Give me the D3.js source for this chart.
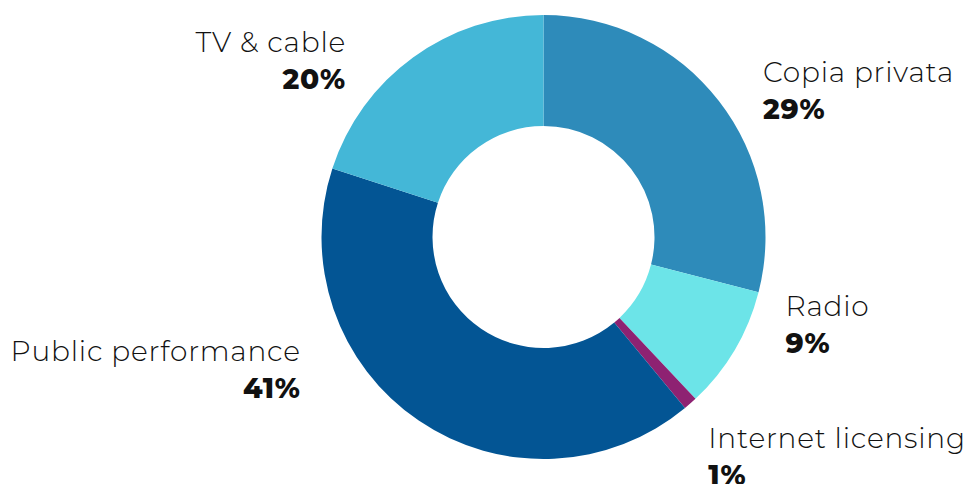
<!doctype html>
<html>
<head>
<meta charset="utf-8">
<script src="https://d3js.org/d3.v7.min.js"></script>
<style>
  body { margin: 0; background: #fff; }
  text { font-family: Montserrat, "Noto Sans", sans-serif; fill: #111; }
  .name { font-weight: 300; font-size: 28px; letter-spacing: 0.8px; }
  .pct { font-weight: 800; font-size: 28px; letter-spacing: 0.8px; }
</style>
</head>
<body>
<div id="chart"></div>
<script>
// data
var categories = ["Copia privata", "Radio", "Internet licensing", "Public performance", "TV & cable"];
var shares = [29, 9, 1, 41, 20];
var colors = ["#2e8bba", "#6ce4e8", "#8e2272", "#035594", "#44b7d7"];

var width = 967, height = 484;
var cx = 543.5, cy = 237;
var outerR = 222, innerR = 111;

// label placement, relative to the outer edge at the slice's mid angle
var labelNudge = {
  "Copia privata":      { dx: 44,   dy: -19, anchor: "start" },
  "Radio":              { dx: 51,   dy: -34, anchor: "start" },
  "Internet licensing": { dx: 18,   dy: 44,  anchor: "start" },
  "Public performance": { dx: -118, dy: -60, anchor: "end" },
  "TV & cable":         { dx: -67,  dy: -5,  anchor: "end" }
};

var svg = d3.select("#chart").append("svg")
  .attr("width", width)
  .attr("height", height);

var g = svg.append("g").attr("transform", "translate(" + cx + "," + cy + ")");

var rows = categories.map(function(c, i) { return { name: c, value: shares[i], color: colors[i] }; });

var pie = d3.pie().sort(null).value(function(d) { return d.value; });
var arc = d3.arc().innerRadius(innerR).outerRadius(outerR);
var slices = pie(rows);

g.selectAll("path")
  .data(slices)
  .enter().append("path")
  .attr("d", arc)
  .attr("fill", function(d) { return d.data.color; });

var labels = g.selectAll("g.label")
  .data(slices)
  .enter().append("g")
  .attr("class", "label")
  .attr("transform", function(d) {
    var a = (d.startAngle + d.endAngle) / 2;
    var n = labelNudge[d.data.name];
    var x = outerR * Math.sin(a) + n.dx;
    var y = -outerR * Math.cos(a) + n.dy;
    return "translate(" + x + "," + y + ")";
  })
  .attr("text-anchor", function(d) { return labelNudge[d.data.name].anchor; });

labels.append("text")
  .attr("class", "name")
  .text(function(d) { return d.data.name; });

labels.append("text")
  .attr("class", "pct")
  .attr("y", 37)
  .text(function(d) { return d.data.value + "%"; });
</script>
</body>
</html>
